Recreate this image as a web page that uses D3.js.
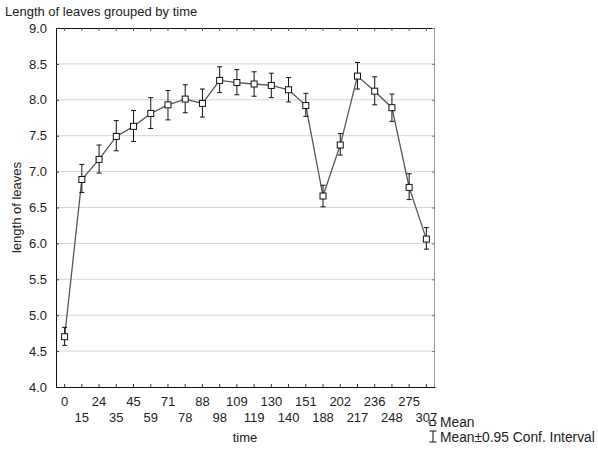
<!DOCTYPE html>
<html>
<head>
<meta charset="utf-8">
<script src="https://cdn.jsdelivr.net/npm/d3@7"></script>
<style>
  html, body { margin: 0; padding: 0; background: #fff; }
  svg text { font-family: "Liberation Sans", Arial, sans-serif; fill: #222; }
</style>
</head>
<body>
<script>
// Sampling times (x categories)
const times = ["0","15","24","35","45","59","71","78","88","98","109","119","130","140","151","188","202","217","236","248","275","307"];
// Mean leaf length at each time
const means = [4.70,6.89,7.17,7.49,7.63,7.81,7.93,8.01,7.95,8.27,8.24,8.22,8.20,8.14,7.92,6.66,7.37,8.33,8.12,7.89,6.78,6.06];
// 95% confidence interval bounds
const ciLow  = [4.58,6.71,6.98,7.29,7.42,7.60,7.72,7.82,7.76,8.10,8.07,8.05,8.03,7.97,7.77,6.51,7.23,8.15,7.93,7.70,6.61,5.92];
const ciHigh = [4.83,7.10,7.37,7.71,7.85,8.03,8.13,8.21,8.15,8.46,8.42,8.39,8.37,8.31,8.09,6.81,7.53,8.52,8.32,8.08,6.97,6.22];
const yTicks = [4.0,4.5,5.0,5.5,6.0,6.5,7.0,7.5,8.0,8.5,9.0];

const W = 598, H = 450;
const plotL = 56, plotR = 435, plotT = 28, plotB = 387;
const FS = 13;

const svg = d3.select("body").append("svg").attr("width", W).attr("height", H);

const x = d3.scaleBand().domain(times).range([plotL, plotR]).paddingInner(0).paddingOuter(0);
const cx = t => x(t) + x.bandwidth() / 2;
const y = d3.scaleLinear().domain([4, 9]).range([plotB, plotT]);

// Horizontal grid
svg.append("g").selectAll("line").data(yTicks.slice(1, -1)).join("line")
  .attr("x1", plotL).attr("x2", plotR)
  .attr("y1", d => y(d)).attr("y2", d => y(d))
  .attr("stroke", "#d6d6d6").attr("stroke-width", 1);

// Frame
svg.append("line").attr("x1", plotL).attr("x2", plotR).attr("y1", plotT + 0.5).attr("y2", plotT + 0.5).attr("stroke", "#111");
svg.append("line").attr("x1", plotR - 0.5).attr("x2", plotR - 0.5).attr("y1", plotT).attr("y2", plotB).attr("stroke", "#999");

// Axes with inward ticks
const fmt = d3.format(".1f");
const yAxis = svg.append("g").attr("transform", `translate(${plotL},0)`)
  .call(d3.axisLeft(y).tickValues(yTicks).tickFormat(fmt).tickSizeInner(-3).tickSizeOuter(0).tickPadding(9));
yAxis.select(".domain").attr("stroke", "#111");
yAxis.selectAll(".tick line").attr("stroke", "#333");
yAxis.selectAll("text").attr("font-size", FS).style("font-family", "Liberation Sans, Arial, sans-serif").attr("fill", "#222");

const yAxisR = svg.append("g").attr("transform", `translate(${plotR},0)`)
  .call(d3.axisRight(y).tickValues(yTicks).tickFormat("").tickSizeInner(-3).tickSizeOuter(0));
yAxisR.select(".domain").remove();
yAxisR.selectAll(".tick line").attr("stroke", "#777");

const xAxis = svg.append("g").attr("transform", `translate(0,${plotB})`)
  .call(d3.axisBottom(x).tickSizeInner(-3).tickSizeOuter(0).tickFormat(""));
xAxis.select(".domain").attr("stroke", "#111");
xAxis.selectAll(".tick line").attr("stroke", "#333");

const xAxisT = svg.append("g").attr("transform", `translate(0,${plotT})`)
  .call(d3.axisTop(x).tickSizeInner(-3).tickSizeOuter(0).tickFormat(""));
xAxisT.select(".domain").remove();
xAxisT.selectAll(".tick line").attr("stroke", "#555");

// Staggered x labels
svg.append("g").selectAll("text").data(times).join("text")
  .attr("x", d => cx(d))
  .attr("y", (d, i) => i % 2 === 0 ? plotB + 19 : plotB + 35)
  .attr("text-anchor", "middle").attr("font-size", FS)
  .text(d => d);

// Axis titles
svg.append("text").attr("x", 245).attr("y", 442).attr("text-anchor", "middle").attr("font-size", FS).text("time");
svg.append("text").attr("transform", `translate(21,${(plotT + plotB) / 2}) rotate(-90)`)
  .attr("text-anchor", "middle").attr("font-size", FS).text("length of leaves");
svg.append("text").attr("x", 5).attr("y", 16).attr("font-size", FS).text("Length of leaves grouped by time");

// Mean line
const pts = times.map((t, i) => ({ t, m: means[i], lo: ciLow[i], hi: ciHigh[i] }));
svg.append("path").datum(pts)
  .attr("d", d3.line().x(d => cx(d.t)).y(d => y(d.m)))
  .attr("fill", "none").attr("stroke", "#555").attr("stroke-width", 1.3);

// Confidence interval whiskers
const eb = svg.append("g").attr("stroke", "#111").attr("stroke-width", 1);
eb.selectAll("line.v").data(pts).join("line").attr("class", "v")
  .attr("x1", d => cx(d.t)).attr("x2", d => cx(d.t))
  .attr("y1", d => y(d.lo)).attr("y2", d => y(d.hi));
eb.selectAll("line.h").data(pts).join("line").attr("class", "h")
  .attr("x1", d => cx(d.t) - 2.5).attr("x2", d => cx(d.t) + 2.5)
  .attr("y1", d => y(d.hi)).attr("y2", d => y(d.hi));
eb.selectAll("line.l").data(pts).join("line").attr("class", "l")
  .attr("x1", d => cx(d.t) - 2.5).attr("x2", d => cx(d.t) + 2.5)
  .attr("y1", d => y(d.lo)).attr("y2", d => y(d.lo));

// Square markers
svg.append("g").selectAll("rect").data(pts).join("rect")
  .attr("x", d => cx(d.t) - 3).attr("y", d => y(d.m) - 3)
  .attr("width", 6).attr("height", 6)
  .attr("fill", "#fff").attr("stroke", "#111").attr("stroke-width", 1);

// Legend
const lg = svg.append("g");
lg.append("line").attr("x1", 428).attr("x2", 437).attr("y1", 423).attr("y2", 423).attr("stroke", "#555");
lg.append("rect").attr("x", 430).attr("y", 420.5).attr("width", 5).attr("height", 5).attr("fill", "#fff").attr("stroke", "#111");
lg.append("text").attr("x", 440).attr("y", 427).attr("font-size", 13.8).text("Mean");
lg.append("line").attr("x1", 433).attr("x2", 433).attr("y1", 431).attr("y2", 442).attr("stroke", "#111");
lg.append("line").attr("x1", 429.5).attr("x2", 436.5).attr("y1", 431).attr("y2", 431).attr("stroke", "#111");
lg.append("line").attr("x1", 429.5).attr("x2", 436.5).attr("y1", 442).attr("y2", 442).attr("stroke", "#111");
lg.append("text").attr("x", 440).attr("y", 442).attr("font-size", 13.8).text("Mean±0.95 Conf. Interval");
</script>
</body>
</html>
